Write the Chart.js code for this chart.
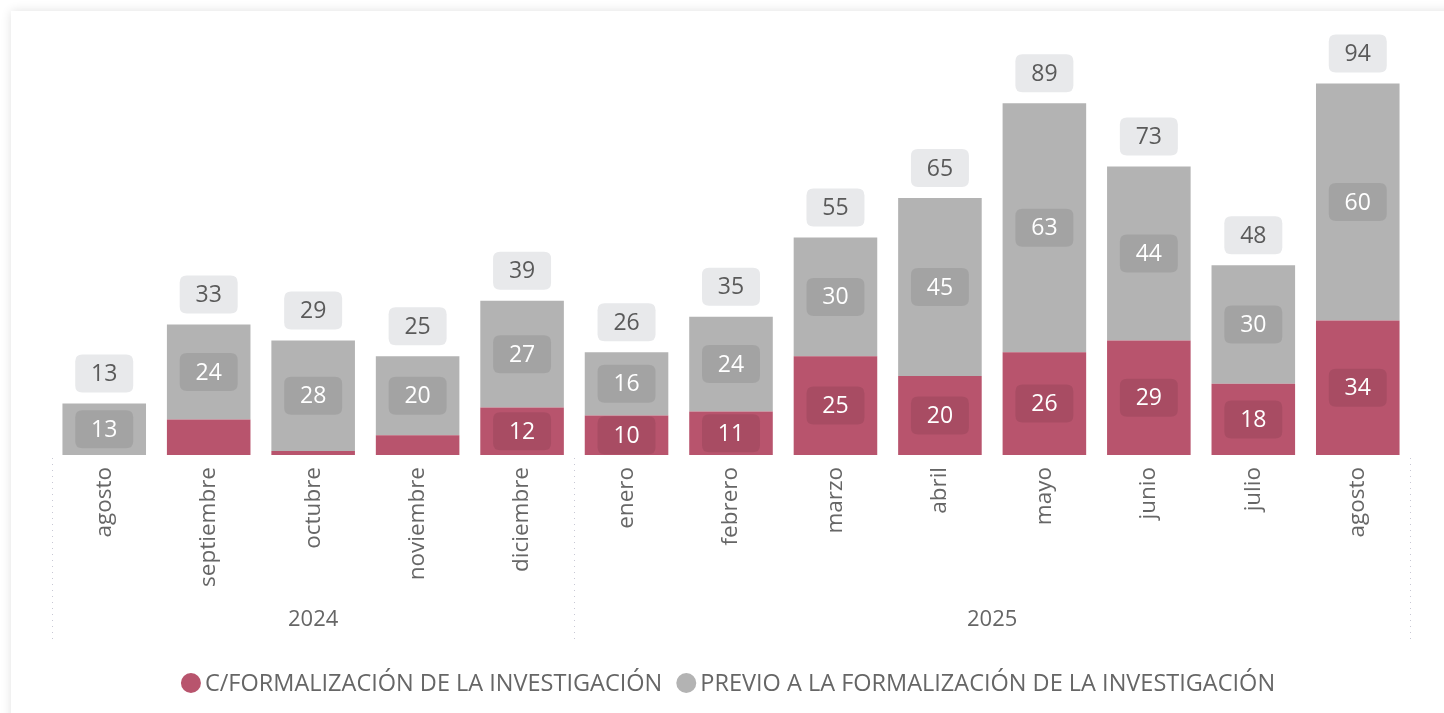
<!DOCTYPE html>
<html><head><meta charset="utf-8">
<script src="https://cdn.jsdelivr.net/npm/chart.js@4.4.1/dist/chart.umd.min.js"></script>
<style>
html,body{margin:0;padding:0;background:#fff;width:1444px;height:713px;overflow:hidden;}
#card{position:absolute;left:11px;top:11px;width:1460px;height:720px;background:#fff;box-shadow:0 0 10px rgba(0,0,0,0.12);}
#wrap{position:absolute;left:0;top:0;width:1444px;height:713px;}
</style></head>
<body>
<div id="card"></div>
<div id="wrap"><canvas id="c" width="1444" height="713"></canvas></div>
<script>
const months = ["agosto","septiembre","octubre","noviembre","diciembre","enero","febrero","marzo","abril","mayo","junio","julio","agosto"];
const years = ["2024","2024","2024","2024","2024","2025","2025","2025","2025","2025","2025","2025","2025"];
const conFormalizacion = [0,9,1,5,12,10,11,25,20,26,29,18,34];
const previoFormalizacion = [13,24,28,20,27,16,24,30,45,63,44,30,60];
const seriesNames = ["C/FORMALIZACIÓN DE LA INVESTIGACIÓN","PREVIO A LA FORMALIZACIÓN DE LA INVESTIGACIÓN"];
const seriesColors = ["#b8546d","#b3b3b3"];

const FONT = "'Open Sans', 'Noto Sans', sans-serif";

function roundRect(ctx,x,y,w,h,r){
  ctx.beginPath();
  ctx.moveTo(x+r,y);ctx.lineTo(x+w-r,y);ctx.quadraticCurveTo(x+w,y,x+w,y+r);
  ctx.lineTo(x+w,y+h-r);ctx.quadraticCurveTo(x+w,y+h,x+w-r,y+h);
  ctx.lineTo(x+r,y+h);ctx.quadraticCurveTo(x,y+h,x,y+h-r);
  ctx.lineTo(x,y+r);ctx.quadraticCurveTo(x,y,x+r,y);ctx.closePath();
}

const labelsPlugin = {
  id:'labelsPlugin',
  afterDatasetsDraw(chart){
    const ctx = chart.ctx;
    const BW=58, BH=38;
    ctx.save();
    ctx.font = "23px "+FONT;
    ctx.textAlign='center';ctx.textBaseline='middle';
    chart.data.datasets.forEach((ds,di)=>{
      const meta = chart.getDatasetMeta(di);
      meta.data.forEach((el,i)=>{
        const v = ds.data[i];
        const h = el.base - el.y;
        if(!v || h < 38) return;
        const cy = (el.y+el.base)/2;
        ctx.fillStyle='rgba(0,0,0,0.085)';
        roundRect(ctx,el.x-BW/2,cy-BH/2,BW,BH,7);ctx.fill();
        ctx.fillStyle='#ffffff';
        ctx.fillText(String(v),el.x,cy+1);
      });
    });
    const n = chart.data.labels.length;
    for(let i=0;i<n;i++){
      let tot=0, top=Infinity, x=0;
      chart.data.datasets.forEach((ds,di)=>{
        tot+=ds.data[i];
        const el = chart.getDatasetMeta(di).data[i];
        top=Math.min(top,el.y); x=el.x;
      });
      const cy = top-30;
      ctx.fillStyle='#e8e9eb';
      roundRect(ctx,x-BW/2,cy-BH/2,BW,BH,7);ctx.fill();
      ctx.fillStyle='#5a5a5a';
      ctx.fillText(String(tot),x,cy+1);
    }
    ctx.restore();
  },
  afterDraw(chart){
    const ctx=chart.ctx, xs=chart.scales.x;
    const n=chart.data.labels.length;
    const step = xs.getPixelForValue(1)-xs.getPixelForValue(0);
    const bottom = chart.chartArea.bottom;
    const groups=[]; let start=0;
    for(let i=1;i<=n;i++){
      if(i===n || years[i]!==years[start]){groups.push([start,i-1,years[start]]);start=i;}
    }
    ctx.save();
    ctx.strokeStyle='#c8c8d4';ctx.lineWidth=1;ctx.setLineDash([1,5]);
    const edges=new Set();
    groups.forEach(g=>{
      edges.add(Math.round(xs.getPixelForValue(g[0])-step/2));
      edges.add(Math.round(xs.getPixelForValue(g[1])+step/2));
    });
    edges.forEach(x=>{ctx.beginPath();ctx.moveTo(x+0.5,bottom+3);ctx.lineTo(x+0.5,bottom+185);ctx.stroke();});
    ctx.setLineDash([]);
    ctx.font="22px "+FONT;ctx.fillStyle='#666';ctx.textAlign='center';ctx.textBaseline='middle';
    groups.forEach(g=>{
      const cx=(xs.getPixelForValue(g[0])+xs.getPixelForValue(g[1]))/2;
      ctx.fillText(g[2],cx,bottom+165);
    });
    // legend
    ctx.font="23.5px "+FONT;ctx.textAlign='left';
    const R=10, gapT=4, gapItem=14;
    const widths = seriesNames.map(s=>ctx.measureText(s).width);
    let total = 0;
    widths.forEach((w,i)=>{ total += 2*R+gapT+w + (i<widths.length-1?gapItem:0); });
    let x = 728 - total/2;
    const ly = 683;
    seriesNames.forEach((s,i)=>{
      ctx.fillStyle=seriesColors[i];
      ctx.beginPath();ctx.arc(x+R,ly,R,0,Math.PI*2);ctx.fill();
      ctx.fillStyle='#666';
      ctx.fillText(s,x+2*R+gapT,ly+1);
      x += 2*R+gapT+widths[i]+gapItem;
    });
    ctx.restore();
  }
};

new Chart(document.getElementById('c'),{
  type:'bar',
  data:{
    labels:months,
    datasets:[
      {label:seriesNames[0],data:conFormalizacion,backgroundColor:seriesColors[0],categoryPercentage:0.8,barPercentage:1.0},
      {label:seriesNames[1],data:previoFormalizacion,backgroundColor:seriesColors[1],categoryPercentage:0.8,barPercentage:1.0}
    ]
  },
  options:{
    responsive:false,animation:false,
    layout:{padding:{left:52,right:34,top:40,bottom:58}},
    scales:{
      x:{stacked:true,grid:{display:false},border:{display:false},
        ticks:{minRotation:90,maxRotation:90,color:'#666',font:{family:FONT,size:22.5},padding:4,autoSkip:false},
        afterFit(s){s.height=200;}},
      y:{stacked:true,display:false,min:0,max:105}
    },
    plugins:{
      legend:{display:false},
      tooltip:{enabled:false}
    }
  },
  plugins:[labelsPlugin]
});
</script>
</body></html>
